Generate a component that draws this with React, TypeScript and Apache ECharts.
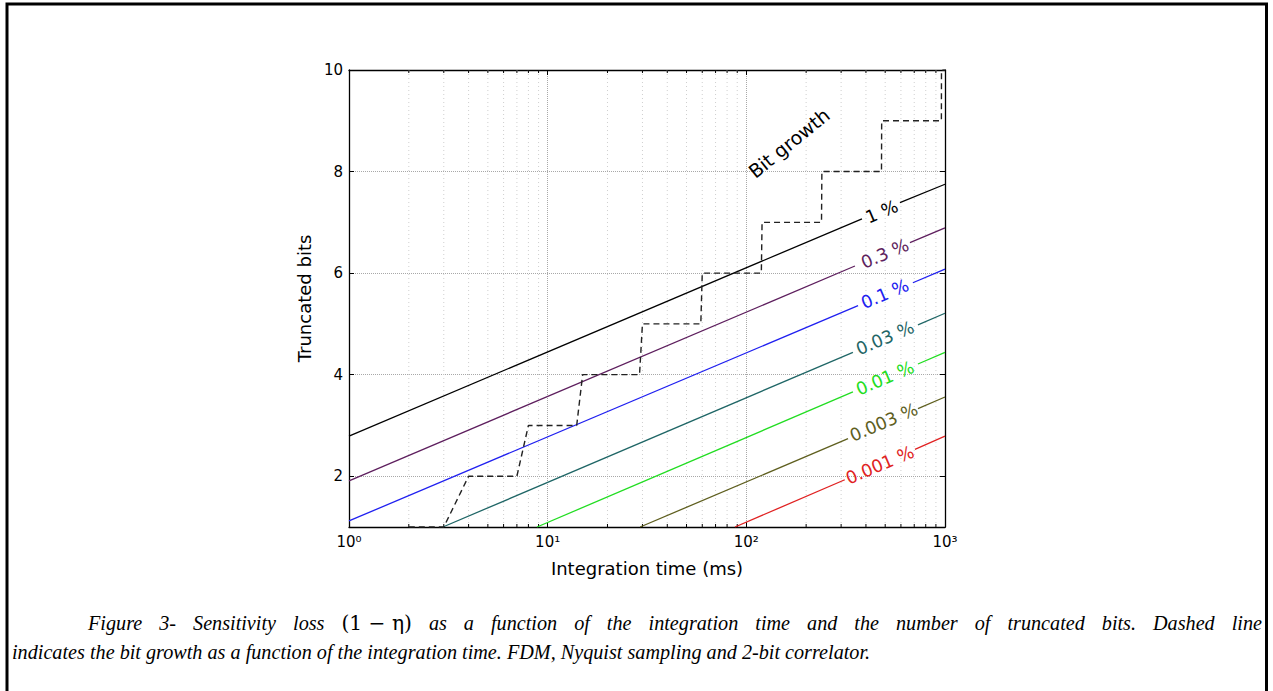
import React, { useEffect, useRef } from "react";
import * as echarts from "echarts";

// ---- data ----
const contourLabels = ["1 %", "0.3 %", "0.1 %", "0.03 %", "0.01 %", "0.003 %", "0.001 %"];
const contourColors = ["#000000", "#5e1f5e", "#2020f0", "#1f6666", "#22dd22", "#5f5f1f", "#e02222"];
const lineStartX = [1, 1, 1, 2.97, 8.84, 29.2, 87.7];
const lineStartY = [2.79, 1.91, 1.12, 1, 1, 1, 1];
const gapStartX = [382, 352, 365, 344, 344, 325, 313];
const gapStartY = [7.07, 6.14, 5.36, 4.44, 3.66, 2.74, 1.93];
const gapEndX = [593, 666, 689, 731, 731, 731, 706];
const gapEndY = [7.39, 6.6, 5.81, 4.98, 4.21, 3.33, 2.53];
const lineEndX = [1000, 1000, 1000, 1000, 1000, 1000, 1000];
const lineEndY = [7.75, 6.89, 6.08, 5.21, 4.44, 3.56, 2.79];
const labelX = [481, 499, 499, 499, 499, 492, 470];
const labelY = [7.21, 6.38, 5.59, 4.72, 3.93, 3.06, 2.22];

const growthX = [2, 3, 4, 7, 8, 14, 15, 29, 30, 59, 60, 119, 120, 239, 240, 479, 480, 959, 960, 1000];
const growthY = [1, 1, 2, 2, 3, 3, 4, 4, 5, 5, 6, 6, 7, 7, 8, 8, 9, 9, 10, 10];
const growthLabel = "Bit growth";
const growthLabelX = 164;
const growthLabelY = 8.56;

const minorXTicks = [2, 3, 4, 5, 6, 7, 8, 9, 20, 30, 40, 50, 60, 70, 80, 90, 200, 300, 400, 500, 600, 700, 800, 900];
const supDigits = ["\u2070", "\u00b9", "\u00b2", "\u00b3"];

const xTitle = "Integration time (ms)";
const yTitle = "Truncated bits";
const captionLine1 = ["Figure", "3-", "Sensitivity", "loss", "(1 \u2212 \u03b7)", "as", "a", "function", "of", "the", "integration", "time", "and", "the", "number", "of", "truncated", "bits.", "Dashed", "line"];
const captionLine2 = "indicates the bit growth as a function of the integration time. FDM, Nyquist sampling and 2-bit correlator.";

const FONT = "DejaVu Sans";
const SERIF = "Liberation Serif";

export default function App() {
  const ref = useRef<HTMLDivElement>(null);
  useEffect(() => {
    if (!ref.current) return;
    const chart = echarts.init(ref.current, undefined, { renderer: "svg" });

    // caption, justified first line
    const capSize = 20.2;
    const cvs = document.createElement("canvas");
    const ctx = cvs.getContext("2d") as CanvasRenderingContext2D;
    const isMath = (w: string) => w.indexOf("\u03b7") >= 0;
    const widths = captionLine1.map((w) => {
      ctx.font = `${isMath(w) ? "" : "italic "}${capSize}px "${isMath(w) ? "DejaVu Serif" : SERIF}"`;
      return ctx.measureText(w).width;
    });
    const left1 = 88;
    const right1 = 1262;
    const totalW = widths.reduce((a, b) => a + b, 0);
    const gap = (right1 - left1 - totalW) / (captionLine1.length - 1);
    let cx = left1;
    const capTexts: any[] = captionLine1.map((w, i) => {
      const el = {
        type: "text",
        x: cx,
        y: 613,
        style: {
          text: w,
          fontFamily: isMath(w) ? "DejaVu Serif" : SERIF,
          fontStyle: isMath(w) ? "normal" : "italic",
          fontSize: capSize,
          fill: "#000",
        },
      };
      cx += widths[i] + gap;
      return el;
    });
    capTexts.push({
      type: "text",
      x: 12,
      y: 642,
      style: {
        text: captionLine2,
        fontFamily: SERIF,
        fontStyle: "italic",
        fontSize: capSize,
        fill: "#000",
      },
    });

    const series: any[] = [];
    // minor x grid + ticks
    series.push({
      type: "custom",
      xAxisIndex: 0,
      yAxisIndex: 0,
      silent: true,
      z: 1,
      data: minorXTicks.map((v) => [v, 1]),
      renderItem: (params: any, api: any) => {
        const v = api.value(0);
        const b = api.coord([v, 1]);
        const t = api.coord([v, 10]);
        return {
          type: "group",
          children: [
            { type: "line", shape: { x1: b[0], y1: b[1], x2: t[0], y2: t[1] }, style: { stroke: "#cfcfcf", lineWidth: 1, lineDash: [1, 3] } },
            { type: "line", shape: { x1: b[0], y1: b[1], x2: b[0], y2: b[1] - 3 }, style: { stroke: "#000", lineWidth: 1 } },
            { type: "line", shape: { x1: t[0], y1: t[1], x2: t[0], y2: t[1] + 3 }, style: { stroke: "#000", lineWidth: 1 } },
          ],
        };
      },
    });

    contourLabels.forEach((lab, i) => {
      const ls = { color: contourColors[i], width: 1.3 };
      series.push({
        type: "line",
        showSymbol: false,
        symbol: "none",
        lineStyle: ls,
        z: 3,
        data: [
          [lineStartX[i], lineStartY[i]],
          [gapStartX[i], gapStartY[i]],
        ],
      });
      series.push({
        type: "line",
        showSymbol: false,
        symbol: "none",
        lineStyle: ls,
        z: 3,
        data: [
          [gapEndX[i], gapEndY[i]],
          [lineEndX[i], lineEndY[i]],
        ],
      });
    });

    series.push({
      type: "line",
      showSymbol: false,
      symbol: "none",
      z: 4,
      lineStyle: { color: "#222", width: 1.4, type: [6, 4] },
      data: growthX.map((x, i) => [x, growthY[i]]),
    });

    series.push({
      type: "scatter",
      symbolSize: 1,
      itemStyle: { color: "rgba(0,0,0,0)" },
      z: 5,
      silent: true,
      data: [
        ...contourLabels.map((lab, i) => ({
          value: [labelX[i], labelY[i]],
          name: lab,
          label: { color: contourColors[i], rotate: 23 },
        })),
        {
          value: [growthLabelX, growthLabelY],
          name: growthLabel,
          label: { color: "#000", rotate: 39, fontSize: 19 },
        },
      ],
      label: {
        show: true,
        position: "inside",
        formatter: (p: any) => p.name,
        fontFamily: FONT,
        fontSize: 17.5,
        textBorderWidth: 0,
        textShadowBlur: 0,
        opacity: 1,
      },
    });

    const axisLineStyle = { color: "#000", width: 1.3 };

    chart.setOption({
      animation: false,
      backgroundColor: "#fff",
      textStyle: { fontFamily: FONT },
      grid: { left: 349, right: 328, top: 70, bottom: 164, containLabel: false },
      xAxis: [
        {
          type: "log",
          logBase: 10,
          min: 1,
          max: 1000,
          position: "bottom",
          axisLine: { show: true, lineStyle: axisLineStyle },
          axisTick: { show: true, inside: true, length: 5, lineStyle: { color: "#000" } },
          splitLine: { show: true, lineStyle: { type: "dotted", color: "#a8a8a8", width: 1 } },
          axisLabel: {
            show: true,
            showMinLabel: true,
            showMaxLabel: true,
            margin: 7,
            color: "#000",
            fontSize: 15,
            fontFamily: FONT,
            formatter: (v: number) => "10" + supDigits[Math.round(Math.log10(v))],
          },
          name: xTitle,
          nameLocation: "middle",
          nameGap: 32,
          nameTextStyle: { fontSize: 18, color: "#000", fontFamily: FONT },
        },
        {
          type: "log",
          logBase: 10,
          min: 1,
          max: 1000,
          position: "top",
          axisLine: { show: true, lineStyle: axisLineStyle },
          axisTick: { show: true, inside: true, length: 5, lineStyle: { color: "#000" } },
          splitLine: { show: false },
          axisLabel: { show: false },
        },
      ],
      yAxis: [
        {
          type: "value",
          min: 1,
          max: 10,
          splitNumber: 5,
          position: "left",
          axisLine: { show: true, lineStyle: axisLineStyle },
          axisTick: { show: true, inside: true, length: 5, lineStyle: { color: "#000" } },
          splitLine: { show: true, lineStyle: { type: "dotted", color: "#a8a8a8", width: 1 } },
          axisLabel: {
            showMinLabel: false,
            margin: 6,
            color: "#000",
            fontSize: 15,
            fontFamily: FONT,
            formatter: (v: number) => (v === 1 ? "" : String(v)),
          },
          name: yTitle,
          nameLocation: "middle",
          nameGap: 36,
          nameTextStyle: { fontSize: 18, color: "#000", fontFamily: FONT },
        },
        {
          type: "value",
          min: 1,
          max: 10,
          splitNumber: 5,
          position: "right",
          axisLine: { show: true, lineStyle: axisLineStyle },
          axisTick: { show: true, inside: true, length: 5, lineStyle: { color: "#000" } },
          splitLine: { show: false },
          axisLabel: { show: false },
        },
      ],
      series,
      graphic: [
        {
          type: "rect",
          shape: { x: 7, y: 4, width: 1259.5, height: 720 },
          style: { fill: "none", stroke: "#000", lineWidth: 3 },
          silent: true,
        },
        ...capTexts,
      ],
    });

    return () => chart.dispose();
  }, []);

  return (
    <div
      ref={ref}
      style={{ position: "fixed", left: 0, top: 0, width: 1273, height: 691, background: "#fff" }}
    />
  );
}
